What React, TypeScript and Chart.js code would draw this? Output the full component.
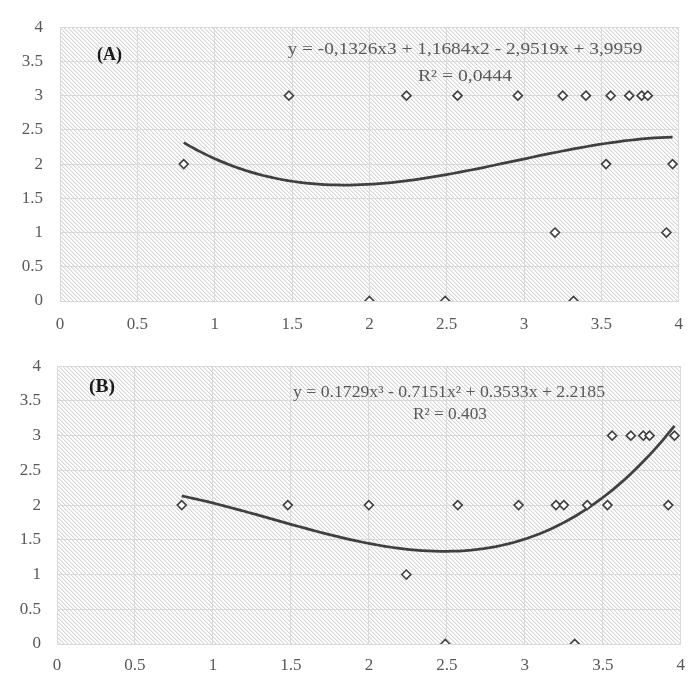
import React, { useEffect, useRef } from "react";
import { Chart, registerables } from "chart.js";

Chart.register(...registerables);

// ---- data ----
const xValues = [0.8, 1.48, 2.0, 2.24, 2.49, 2.57, 2.96, 3.2, 3.25, 3.32, 3.4, 3.53, 3.56, 3.68, 3.76, 3.8, 3.92, 3.96];
const yValuesA = [2, 3, 0, 3, 0, 3, 3, 1, 3, 0, 3, 2, 3, 3, 3, 3, 1, 2];
const yValuesB = [2, 2, 2, 1, 0, 2, 2, 2, 2, 0, 2, 2, 3, 3, 3, 3, 2, 3];
// polynomial trendline coefficients c0 + c1 x + c2 x^2 + c3 x^3 (as printed on chart)
const coefA = [3.9959, -2.9519, 1.1684, -0.1326];
const coefB = [2.2185, 0.3533, -0.7151, 0.1729];
const xTicks = [0, 0.5, 1, 1.5, 2, 2.5, 3, 3.5, 4];
const xTickLabels = ["0", "0.5", "1", "1.5", "2", "2.5", "3", "3.5", "4"];
const yTicks = [0, 0.5, 1, 1.5, 2, 2.5, 3, 3.5, 4];
const yTickLabels = ["0", "0.5", "1", "1.5", "2", "2.5", "3", "3.5", "4"];

const panelLabelA = "(A)";
const equationA = "y = -0,1326x3 + 1,1684x2 - 2,9519x + 3,9959";
const r2A = "R\u00B2 = 0,0444";
const panelLabelB = "(B)";
const equationB = "y = 0.1729x\u00B3 - 0.7151x\u00B2 + 0.3533x + 2.2185";
const r2B = "R\u00B2 = 0.403";

const TRENDLINE_STEPS = 80;

function polyEval(c: number[], x: number) {
  return c[0] + c[1] * x + c[2] * x * x + c[3] * x * x * x;
}

function trendPoints(c: number[]) {
  const lo = Math.min(...xValues);
  const hi = Math.max(...xValues);
  const pts: { x: number; y: number }[] = [];
  for (let i = 0; i <= TRENDLINE_STEPS; i++) {
    const x = lo + ((hi - lo) * i) / TRENDLINE_STEPS;
    pts.push({ x, y: polyEval(c, x) });
  }
  return pts;
}

let hatchPattern: CanvasPattern | null = null;
function getHatch(ctx: CanvasRenderingContext2D) {
  if (hatchPattern) return hatchPattern;
  const n = 4;
  const tile = document.createElement("canvas");
  tile.width = n;
  tile.height = n;
  const tctx = tile.getContext("2d")!;
  const img = tctx.createImageData(n, n);
  for (let yy = 0; yy < n; yy++) {
    for (let xx = 0; xx < n; xx++) {
      const m = (((xx - yy) % n) + n) % n;
      let v = 255;
      if (m === 0) v = 214;
      else if (m === 1) v = 238;
      const i = (yy * n + xx) * 4;
      img.data[i] = v;
      img.data[i + 1] = v;
      img.data[i + 2] = v;
      img.data[i + 3] = 255;
    }
  }
  tctx.putImageData(img, 0, 0);
  hatchPattern = ctx.createPattern(tile, "repeat");
  return hatchPattern;
}

const hatchPlugin = {
  id: "hatchBg",
  beforeDraw(chart: any) {
    const { ctx, chartArea } = chart;
    if (!chartArea) return;
    ctx.save();
    ctx.fillStyle = getHatch(ctx) || "#eeeeee";
    ctx.fillRect(chartArea.left, chartArea.top, chartArea.right - chartArea.left, chartArea.bottom - chartArea.top);
    ctx.restore();
  },
};

type TextItem = {
  text: string;
  dx: number; // offset from chartArea.left
  dy: number; // baseline offset from chartArea.top
  align: "left" | "center";
  font: string;
  color: string;
  width: number; // target rendered width
};

const textPlugin = {
  id: "panelTexts",
  afterDatasetsDraw(chart: any, _args: any, opts: any) {
    const items: TextItem[] = opts.items || [];
    const { ctx, chartArea } = chart;
    items.forEach((it) => {
      ctx.save();
      ctx.font = it.font;
      ctx.fillStyle = it.color;
      ctx.textBaseline = "alphabetic";
      ctx.textAlign = "left";
      const w = ctx.measureText(it.text).width;
      const sx = it.width / w;
      const x = chartArea.left + it.dx;
      const y = chartArea.top + it.dy;
      const left = it.align === "center" ? x - it.width / 2 : x;
      ctx.translate(left, y);
      ctx.scale(sx, 1);
      ctx.fillText(it.text, 0, 0);
      ctx.restore();
    });
  },
};

const TICK_COLOR = "#595959";
const GRID_COLOR = "#d9d9d9";
const MARK_COLOR = "#404040";
const SERIF = "'Liberation Serif', 'Times New Roman', serif";

type PanelCfg = {
  ys: number[];
  coef: number[];
  padTop: number;
  padRight: number;
  yAxisW: number;
  xAxisH: number;
  xPad: number;
  yPad: number;
  texts: TextItem[];
};

function Panel({ cfg, top, height }: { cfg: PanelCfg; top: number; height: number }) {
  const ref = useRef<HTMLCanvasElement>(null);
  useEffect(() => {
    if (!ref.current) return;
    const points = xValues.map((x, i) => ({ x, y: cfg.ys[i] }));
    const chart = new Chart(ref.current, {
      type: "scatter",
      data: {
        datasets: [
          {
            data: points,
            pointStyle: "rectRot",
            pointRadius: 4.5,
            pointBorderWidth: 1.6,
            pointBorderColor: MARK_COLOR,
            pointBackgroundColor: "#ffffff",
            showLine: false,
          } as any,
          {
            data: trendPoints(cfg.coef),
            showLine: true,
            borderColor: MARK_COLOR,
            borderWidth: 2.75,
            pointRadius: 0,
            tension: 0,
            fill: false,
          } as any,
        ],
      },
      options: {
        animation: false,
        responsive: true,
        maintainAspectRatio: false,
        layout: { padding: { top: cfg.padTop, right: cfg.padRight, left: 0, bottom: 0 } },
        plugins: {
          legend: { display: false },
          tooltip: { enabled: false },
          panelTexts: { items: cfg.texts },
        } as any,
        scales: {
          x: {
            type: "linear",
            min: xTicks[0],
            max: xTicks[xTicks.length - 1],
            afterBuildTicks: (s: any) => {
              s.ticks = xTicks.map((v) => ({ value: v }));
            },
            ticks: {
              color: TICK_COLOR,
              font: { family: SERIF, size: 17 },
              padding: cfg.xPad,
              maxRotation: 0,
              autoSkip: false,
              callback: (_v: any, i: number) => xTickLabels[i],
            },
            grid: { color: GRID_COLOR, lineWidth: 1, drawTicks: false },
            border: { display: false },
            afterFit: (s: any) => {
              s.height = cfg.xAxisH;
            },
          },
          y: {
            type: "linear",
            min: yTicks[0],
            max: yTicks[yTicks.length - 1],
            afterBuildTicks: (s: any) => {
              s.ticks = yTicks.map((v) => ({ value: v }));
            },
            ticks: {
              color: TICK_COLOR,
              font: { family: SERIF, size: 17 },
              padding: cfg.yPad,
              autoSkip: false,
              callback: (_v: any, i: number) => yTickLabels[i],
            },
            grid: { color: GRID_COLOR, lineWidth: 1, drawTicks: false },
            border: { display: false },
            afterFit: (s: any) => {
              s.width = cfg.yAxisW;
            },
          },
        },
      } as any,
      plugins: [hatchPlugin, textPlugin],
    });
    return () => chart.destroy();
  }, [cfg]);
  return (
    <div style={{ position: "absolute", left: 0, top, width: 696, height }}>
      <canvas ref={ref} />
    </div>
  );
}

const eqFont = `16px ${SERIF}`;
const labelFont = `bold 18px ${SERIF}`;

const cfgA: PanelCfg = {
  ys: yValuesA,
  coef: coefA,
  padTop: 14,
  padRight: 14,
  yAxisW: 60,
  xAxisH: 39,
  xPad: 13,
  yPad: 17,
  texts: [
    { text: panelLabelA, dx: 37, dy: 33, align: "left", font: labelFont, color: "#1a1a1a", width: 25 },
    { text: equationA, dx: 405, dy: 27, align: "center", font: eqFont, color: TICK_COLOR, width: 355 },
    { text: r2A, dx: 405, dy: 54, align: "center", font: eqFont, color: TICK_COLOR, width: 94 },
  ],
};

const cfgB: PanelCfg = {
  ys: yValuesB,
  coef: coefB,
  padTop: 22,
  padRight: 13,
  yAxisW: 57,
  xAxisH: 37,
  xPad: 11,
  yPad: 16,
  texts: [
    { text: panelLabelB, dx: 32, dy: 26, align: "left", font: labelFont, color: "#1a1a1a", width: 26 },
    { text: equationB, dx: 392, dy: 31, align: "center", font: eqFont, color: TICK_COLOR, width: 312 },
    { text: r2B, dx: 393, dy: 53, align: "center", font: eqFont, color: TICK_COLOR, width: 74 },
  ],
};

export default function App() {
  return (
    <div style={{ position: "absolute", left: 0, top: 0, width: 696, height: 681, background: "#ffffff" }}>
      <Panel cfg={cfgA} top={0} height={340} />
      <Panel cfg={cfgB} top={340} height={341} />
    </div>
  );
}
